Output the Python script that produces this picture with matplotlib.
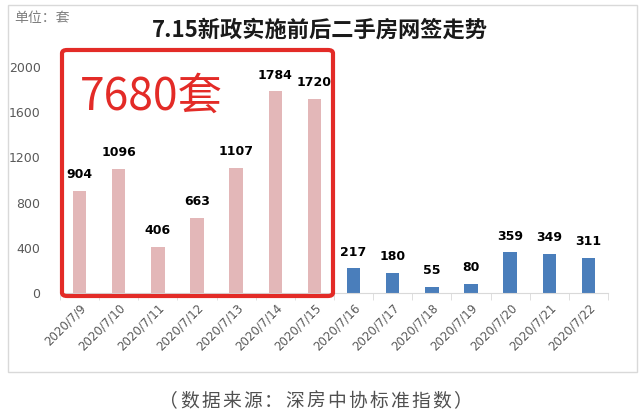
import matplotlib
matplotlib.use("Agg")
import matplotlib.pyplot as plt
from matplotlib.patches import FancyBboxPatch, Rectangle
import numpy as np

plt.rcParams['font.family'] = ['Noto Sans CJK SC', 'DejaVu Sans']

dates = ["2020/7/9", "2020/7/10", "2020/7/11", "2020/7/12", "2020/7/13", "2020/7/14", "2020/7/15",
         "2020/7/16", "2020/7/17", "2020/7/18", "2020/7/19", "2020/7/20", "2020/7/21", "2020/7/22"]
values = [904, 1096, 406, 663, 1107, 1784, 1720, 217, 180, 55, 80, 359, 349, 311]
before_count = 7
total_before = "7680套"
yticks = [0, 400, 800, 1200, 1600, 2000]
source = "（数据来源：深房中协标准指数）"

pink = "#e3b7b8"
blue = "#4a7ebb"
W, H = 641, 419
fig = plt.figure(figsize=(W/100, H/100), dpi=100)

# outer chart frame
fig.patches.append(Rectangle((8/W, 1-372/H), 629/W, 367/H, transform=fig.transFigure,
                             fill=False, edgecolor="#d9d9d9", linewidth=1))

ax = fig.add_axes([60/W, 1-293/H, 548/W, 226/H])
x = np.arange(len(values))
colors = [pink if i < before_count else blue for i in range(len(values))]
ax.bar(x, values, width=0.34, color=colors)
ax.set_xlim(-0.5, len(values)-0.5)
ax.set_ylim(0, 2000)
ax.set_yticks(yticks)
ax.set_yticklabels([str(v) for v in yticks], color="#595959", fontsize=9, family="DejaVu Sans")
ax.tick_params(axis='y', length=0, pad=14)
ax.set_xticks(x)
ax.set_xticklabels(dates, rotation=45, ha="right", rotation_mode="anchor", fontsize=8.5,
                   color="#595959", family="DejaVu Sans")
ax.set_xticks(np.arange(-0.5, len(values), 1), minor=True)
ax.tick_params(axis='x', which='major', length=0, pad=6)
ax.tick_params(axis='x', which='minor', length=5, color="#d9d9d9", direction='out')
for s in ["top", "right", "left"]:
    ax.spines[s].set_visible(False)
ax.spines["bottom"].set_color("#d9d9d9")

for xi, v in zip(x, values):
    ax.annotate(str(v), (xi, v), xytext=(0, 7), textcoords="offset points",
                ha="center", va="bottom", fontsize=9, fontweight="bold", color="black",
                family="DejaVu Sans")

# red highlight box
box = FancyBboxPatch((62/W, 1-296/H), 271/W, 246/H, boxstyle="round,pad=0,rounding_size=0.008",
                     transform=fig.transFigure, fill=False, edgecolor="#e32b27", linewidth=3)
fig.patches.append(box)
fig.text(80/W, 1-97/H, total_before, fontsize=32, color="#e32b27", va="center", ha="left")

fig.text(320/W, 1-30/H, "7.15新政实施前后二手房网签走势", fontsize=16, fontweight="bold",
         ha="center", va="center", color="#1a1a1a")
fig.text(14/W, 1-18/H, "单位：套", fontsize=10, color="#7f7f7f", ha="left", va="center")

# source line with letter spacing
step = 21.0
start = 158 + step / 2
for i, ch in enumerate(source):
    fig.text((start + i * step)/W, 1-401/H, ch, fontsize=13.5, color="#505050",
             ha="center", va="center")

fig.savefig("out.png", dpi=100)
